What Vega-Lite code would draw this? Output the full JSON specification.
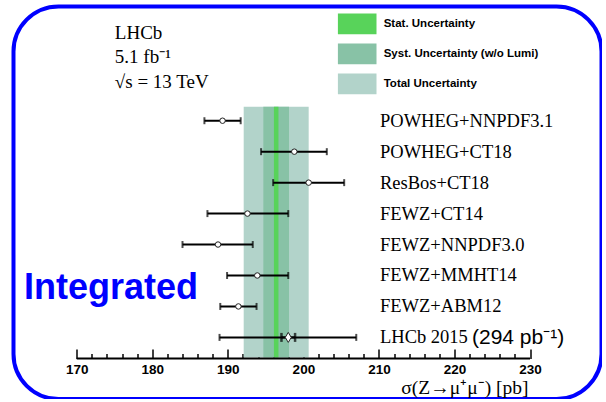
{
  "$schema": "https://vega.github.io/schema/vega-lite/v6.json",
  "width": 588,
  "height": 392.5,
  "autosize": {"type": "none"},
  "padding": {"left": 13.5, "top": 6.5, "right": 0, "bottom": 0},
  "background": "white",
  "config": {
    "view": {"stroke": "#0000ff", "strokeWidth": 4, "cornerRadius": 45},
    "axis": {"grid": false},
    "font": "Liberation Serif"
  },
  "datasets": {
    "bands": [
      {"type": "Total Uncertainty", "lo": 192.1, "hi": 200.7},
      {"type": "Syst. Uncertainty (w/o Lumi)", "lo": 194.7, "hi": 198.1},
      {"type": "Stat. Uncertainty", "lo": 196.1, "hi": 196.7}
    ],
    "rows": [
      {"name": "POWHEG+NNPDF3.1", "row": 1, "val": 189.3, "lo": 186.9, "hi": 191.7},
      {"name": "POWHEG+CT18", "row": 2, "val": 198.8, "lo": 194.4, "hi": 203.1},
      {"name": "ResBos+CT18", "row": 3, "val": 200.7, "lo": 196.0, "hi": 205.4},
      {"name": "FEWZ+CT14", "row": 4, "val": 192.6, "lo": 187.3, "hi": 198.0},
      {"name": "FEWZ+NNPDF3.0", "row": 5, "val": 188.7, "lo": 184.0, "hi": 193.3},
      {"name": "FEWZ+MMHT14", "row": 6, "val": 193.9, "lo": 189.9, "hi": 198.0},
      {"name": "FEWZ+ABM12", "row": 7, "val": 191.4, "lo": 189.0, "hi": 193.8},
      {"name": "LHCb 2015", "row": 8, "val": 198.0, "lo": 188.9, "hi": 207.0, "slo": 197.1, "shi": 198.9, "note": "(294 pb⁻¹)"}
    ]
  },
  "layer": [
    {
      "data": {"name": "bands"},
      "mark": {"type": "rect"},
      "encoding": {
        "x": {
          "field": "lo", "type": "quantitative",
          "scale": {"domain": [161.63, 239.46], "nice": false, "zero": false},
          "axis": {
            "orient": "bottom", "offset": -40.5, "domain": false,
            "values": [170, 180, 190, 200, 210, 220, 230],
            "tickSize": -9.5, "tickWidth": 1.5, "tickColor": "black",
            "labelFont": "Liberation Sans", "labelFontWeight": "bold", "labelFontSize": 13.5,
            "labelColor": "black", "labelPadding": 13, "labelFlush": false,
            "title": "σ(Z→μ⁺μ⁻) [pb]", "titleFont": "Liberation Serif", "titleFontSize": 19.5,
            "titleFontWeight": "normal", "titleColor": "black",
            "titleX": 514.5, "titleY": 35, "titleAlign": "right", "titleBaseline": "alphabetic"
          }
        },
        "x2": {"field": "hi"},
        "y": {"datum": 0.55, "type": "quantitative",
              "scale": {"domain": [-2.69, 9.99], "reverse": true, "nice": false, "zero": false},
              "axis": null},
        "y2": {"datum": 8.65},
        "color": {
          "field": "type", "type": "nominal",
          "scale": {
            "domain": ["Stat. Uncertainty", "Syst. Uncertainty (w/o Lumi)", "Total Uncertainty"],
            "range": ["#58d35a", "#88c2a6", "#b2d3ca"]
          },
          "legend": {
            "orient": "none", "legendX": 324.2, "legendY": -2.2, "direction": "vertical",
            "title": null, "padding": 0,
            "symbolType": "M-1,-0.535H1V0.535H-1Z", "symbolSize": 1490,
            "symbolStrokeWidth": 0, "symbolOpacity": 1, "rowPadding": -10.6,
            "labelOffset": 7, "labelFont": "Liberation Sans", "labelFontWeight": "bold",
            "labelFontSize": 11.5, "labelColor": "black", "labelLimit": 300
          }
        }
      }
    },
    {
      "data": {"values": [{}]},
      "mark": {"type": "rule", "color": "black", "strokeWidth": 2},
      "encoding": {
        "x": {"datum": 170, "type": "quantitative",
              "axis": {
                "orient": "bottom", "offset": -40.5, "domain": false,
                "values": [172, 174, 176, 178, 182, 184, 186, 188, 192, 194, 196, 198, 202, 204, 206, 208, 212, 214, 216, 218, 222, 224, 226, 228],
                "tickSize": -5, "tickWidth": 1.5, "tickColor": "black",
                "labels": false, "title": null
              }},
        "x2": {"datum": 230},
        "y": {"datum": 8.683, "type": "quantitative", "axis": null}
      }
    },
    {
      "data": {"name": "rows"},
      "mark": {"type": "errorbar", "color": "black", "thickness": 2, "ticks": {"size": 7, "thickness": 2, "color": "black"}},
      "encoding": {
        "x": {"field": "lo", "type": "quantitative", "axis": null},
        "x2": {"field": "hi"},
        "y": {"field": "row", "type": "quantitative", "axis": null}
      }
    },
    {
      "data": {"name": "rows"},
      "transform": [{"filter": "isValid(datum.slo)"}],
      "mark": {"type": "errorbar", "color": "black", "thickness": 2, "ticks": {"size": 9, "thickness": 2.5, "color": "black"}},
      "encoding": {
        "x": {"field": "slo", "type": "quantitative", "axis": null},
        "x2": {"field": "shi"},
        "y": {"field": "row", "type": "quantitative", "axis": null}
      }
    },
    {
      "data": {"name": "rows"},
      "transform": [{"filter": "datum.row < 8"}],
      "mark": {"type": "point", "shape": "circle", "filled": true, "fill": "white", "stroke": "#222", "strokeWidth": 1, "size": 30, "opacity": 1},
      "encoding": {
        "x": {"field": "val", "type": "quantitative", "axis": null},
        "y": {"field": "row", "type": "quantitative", "axis": null}
      }
    },
    {
      "data": {"name": "rows"},
      "transform": [{"filter": "datum.row == 8"}],
      "mark": {"type": "point", "shape": "M0,-1L0.6,0L0,1L-0.6,0Z", "filled": true, "fill": "white", "stroke": "#222", "strokeWidth": 1, "size": 100, "opacity": 1},
      "encoding": {
        "x": {"field": "val", "type": "quantitative", "axis": null},
        "y": {"field": "row", "type": "quantitative", "axis": null}
      }
    },
    {
      "data": {"name": "rows"},
      "mark": {"type": "text", "align": "left", "baseline": "middle", "font": "Liberation Serif", "fontSize": 18.5, "color": "black"},
      "encoding": {
        "x": {"datum": 210.14, "type": "quantitative", "axis": null},
        "y": {"field": "row", "type": "quantitative", "axis": null},
        "text": {"field": "name"}
      }
    },
    {
      "data": {"name": "rows"},
      "transform": [{"filter": "datum.row == 8"}],
      "mark": {"type": "text", "align": "left", "baseline": "middle", "font": "Liberation Sans", "fontSize": 21, "color": "black", "dx": 92, "dy": 1},
      "encoding": {
        "x": {"datum": 210.14, "type": "quantitative", "axis": null},
        "y": {"field": "row", "type": "quantitative", "axis": null},
        "text": {"field": "note"}
      }
    },
    {
      "data": {"values": [{}]},
      "mark": {"type": "text", "align": "left", "baseline": "alphabetic", "font": "Liberation Serif", "fontSize": 19, "lineHeight": 24.5, "color": "black",
               "text": ["LHCb", "5.1 fb⁻¹", "√s = 13 TeV"]},
      "encoding": {
        "x": {"datum": 175.04, "type": "quantitative", "axis": null},
        "y": {"datum": -1.653, "type": "quantitative", "axis": null}
      }
    },
    {
      "data": {"values": [{}]},
      "mark": {"type": "text", "align": "left", "baseline": "alphabetic", "font": "Liberation Sans", "fontWeight": "bold", "fontSize": 36, "color": "#0000ff", "text": "Integrated"},
      "encoding": {
        "x": {"datum": 163.02, "type": "quantitative", "axis": null},
        "y": {"datum": 6.75, "type": "quantitative", "axis": null}
      }
    }
  ],
  "resolve": {"axis": {"x": "independent"}}
}
